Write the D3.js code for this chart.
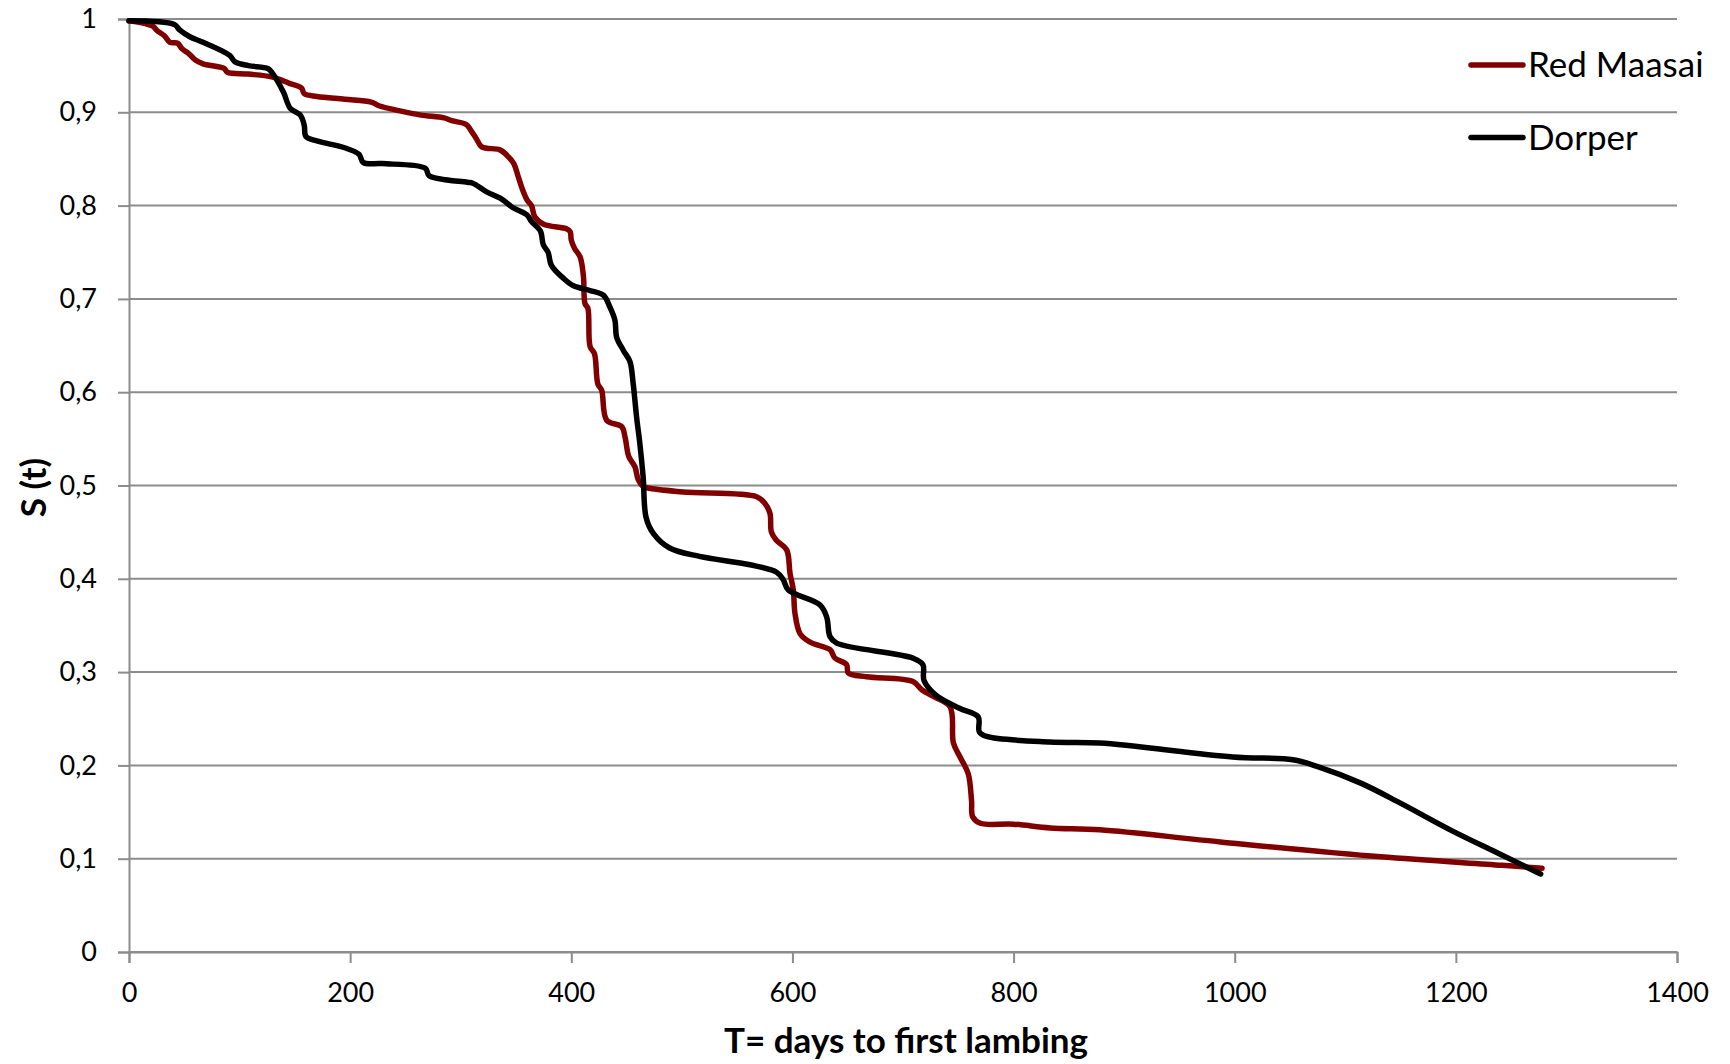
<!DOCTYPE html>
<html>
<head>
<meta charset="utf-8">
<script src="https://cdn.jsdelivr.net/npm/d3@7"></script>
<style>
    body { margin: 0; background: #fff; }
    text { font-family: Lato, "Open Sans", sans-serif; fill: #000; }
</style>
</head>
<body>
<div id="chart"></div>
<script>
// data: [days, S(t)]
const redMaasai = [
    [0, 0.998], [15, 0.995], [22, 0.992], [25, 0.988], [32, 0.982], [37, 0.975], [44, 0.974],
    [48, 0.968], [54, 0.963], [60, 0.956], [67, 0.952], [86, 0.947], [89, 0.943], [108, 0.941],
    [129, 0.938], [139, 0.934], [145, 0.931], [156, 0.926], [158.5, 0.920], [170, 0.917],
    [195, 0.914], [219, 0.911], [226, 0.907], [247, 0.901], [264, 0.897], [285, 0.894],
    [292, 0.891], [305, 0.887], [309, 0.881], [314, 0.872], [319, 0.863], [335, 0.860],
    [340, 0.856], [348, 0.845], [352, 0.831], [356.6, 0.815], [360, 0.806], [364, 0.800],
    [367, 0.788], [375, 0.780], [396, 0.775], [399, 0.772], [400, 0.763], [403, 0.754],
    [408, 0.745], [411, 0.724], [412.4, 0.695], [415, 0.690], [417, 0.649], [421, 0.641],
    [424, 0.609], [427.5, 0.602], [432, 0.570], [445.6, 0.563], [448.6, 0.552], [452, 0.531],
    [457.6, 0.520], [460.6, 0.506], [465, 0.499], [471, 0.497], [501, 0.493], [567.6, 0.488],
    [575, 0.481], [579.7, 0.470], [581, 0.450], [585.7, 0.441], [594.8, 0.431], [597.8, 0.406],
    [600.8, 0.388], [602.3, 0.363], [607, 0.341], [616, 0.332], [634, 0.324], [638.5, 0.315],
    [649, 0.308], [650.6, 0.299], [667, 0.295], [709, 0.290], [717, 0.281], [727.5, 0.274],
    [742.5, 0.263], [745.6, 0.224], [751.6, 0.209], [759, 0.191], [762, 0.162], [763, 0.145],
    [770, 0.138], [800, 0.137], [833, 0.133], [878, 0.131], [987, 0.118], [1132, 0.102],
    [1241.5, 0.093], [1278, 0.0897]
];

const dorper = [
    [0, 0.998], [41, 0.994], [46, 0.988], [55, 0.981], [67, 0.975], [91, 0.961], [96, 0.954],
    [108, 0.950], [125.6, 0.947], [129, 0.943], [139.5, 0.922], [146, 0.904], [155, 0.897],
    [158.5, 0.886], [160, 0.874], [170.6, 0.869], [195, 0.862], [208, 0.855], [212, 0.846],
    [229, 0.845], [268, 0.840], [271.5, 0.832], [306, 0.825], [311, 0.824], [323, 0.815],
    [337, 0.807], [347, 0.798], [360, 0.790], [364, 0.783], [372, 0.773], [374.7, 0.758],
    [379, 0.750], [382, 0.736], [393, 0.722], [402, 0.714], [417, 0.709], [429, 0.704],
    [435, 0.691], [439.5, 0.677], [441, 0.659], [447, 0.645], [453, 0.633], [456, 0.609],
    [459, 0.574], [462, 0.545], [465, 0.509], [467.6, 0.466], [474, 0.449], [489, 0.433],
    [516, 0.424], [561.6, 0.415], [585.7, 0.407], [591.7, 0.399], [596.3, 0.388], [625, 0.372],
    [631, 0.359], [634, 0.338], [640, 0.331], [709, 0.315], [718, 0.308], [719, 0.291],
    [730, 0.275], [751.6, 0.261], [768, 0.252], [769, 0.236], [775.7, 0.231], [833, 0.225],
    [878, 0.224], [998, 0.209], [1052.6, 0.206], [1074.4, 0.199], [1114, 0.181], [1150.7, 0.159],
    [1198, 0.129], [1241.5, 0.104], [1276.7, 0.0836]
];

const seriesNames = ['Red Maasai', 'Dorper'];
const seriesColors = ['#800000', '#000000'];
const xTicks = [0, 200, 400, 600, 800, 1000, 1200, 1400];
const yTicks = [0, 0.1, 0.2, 0.3, 0.4, 0.5, 0.6, 0.7, 0.8, 0.9, 1];
const xTitle = 'T= days to first lambing';
const yTitle = 'S (t)';

const draw = () => {
    // dimensions
    const dimensions = {
        width: 1730,
        height: 1064,
        margin: {
            top: 19,
            bottom: 112,
            left: 129,
            right: 53,
        }
    }

    dimensions.containerWidth = dimensions.width - dimensions.margin.left - dimensions.margin.right;
    dimensions.containerHeight = dimensions.height - dimensions.margin.top - dimensions.margin.bottom;

    const svg = d3.select('#chart')
        .append('svg')
        .attr('width', dimensions.width)
        .attr('height', dimensions.height);

    const container = svg.append('g')
        .attr('transform', `translate(${dimensions.margin.left}, ${dimensions.margin.top})`);

    // scales
    const xScale = d3.scaleLinear()
        .domain([0, 1400])
        .range([0, dimensions.containerWidth]);

    const yScale = d3.scaleLinear()
        .domain([0, 1])
        .range([dimensions.containerHeight, 0]);

    const gridColor = '#8c8c8c';

    // gridlines
    container.append('g')
        .selectAll('line')
        .data(yTicks)
        .join('line')
        .attr('x1', 0)
        .attr('x2', dimensions.containerWidth)
        .attr('y1', d => yScale(d))
        .attr('y2', d => yScale(d))
        .attr('stroke', gridColor)
        .attr('stroke-width', 2);

    // axes
    const xAxis = d3.axisBottom(xScale)
        .tickValues(xTicks)
        .tickSize(11)
        .tickPadding(20)
        .tickFormat(d => d);

    const xAxisGroup = container.append('g')
        .attr('transform', `translate(0, ${dimensions.containerHeight})`)
        .call(xAxis);

    const yAxis = d3.axisLeft(yScale)
        .tickValues(yTicks)
        .tickSize(11)
        .tickPadding(21)
        .tickFormat(d => (d === 0 || d === 1) ? String(d) : d.toFixed(1).replace('.', ','));

    const yAxisGroup = container.append('g')
        .call(yAxis);

    [xAxisGroup, yAxisGroup].forEach(g => {
        g.select('.domain').attr('stroke', gridColor).attr('stroke-width', 2);
        g.selectAll('.tick line').attr('stroke', gridColor).attr('stroke-width', 2);
        g.selectAll('.tick text')
            .style('font-family', 'Lato, sans-serif')
            .style('font-size', '27px')
            .attr('fill', '#000');
    });

    xAxisGroup.append('text')
        .attr('x', dimensions.containerWidth / 2 + 3)
        .attr('y', 101)
        .attr('text-anchor', 'middle')
        .style('font-size', '35px')
        .style('font-weight', 'bold')
        .text(xTitle);

    yAxisGroup.append('text')
        .attr('transform', `translate(${-dimensions.margin.left + 46}, ${yScale(0.5) + 2}) rotate(-90)`)
        .attr('text-anchor', 'middle')
        .style('font-size', '35px')
        .style('font-weight', 'bold')
        .text(yTitle);

    // lines
    const line = d3.line()
        .x(d => xScale(d[0]))
        .y(d => yScale(d[1]))
        .curve(d3.curveCatmullRom.alpha(0.5));

    const series = [redMaasai, dorper];

    container.selectAll('path.series')
        .data(series)
        .join('path')
        .attr('class', 'series')
        .attr('d', line)
        .attr('fill', 'none')
        .attr('stroke', (d, i) => seriesColors[i])
        .attr('stroke-width', 5.5)
        .attr('stroke-linejoin', 'round')
        .attr('stroke-linecap', 'round');

    // legend
    const legend = svg.append('g')
        .attr('transform', 'translate(1469, 65)');

    const items = legend.selectAll('g')
        .data(seriesNames)
        .join('g')
        .attr('transform', (d, i) => `translate(0, ${i * 72.5})`);

    items.append('line')
        .attr('x1', 2)
        .attr('x2', 54)
        .attr('stroke', (d, i) => seriesColors[i])
        .attr('stroke-width', 5.5)
        .attr('stroke-linecap', 'round');

    items.append('text')
        .attr('x', 59)
        .attr('y', 12)
        .style('font-size', '35px')
        .text(d => d);
}

draw();
</script>
</body>
</html>
